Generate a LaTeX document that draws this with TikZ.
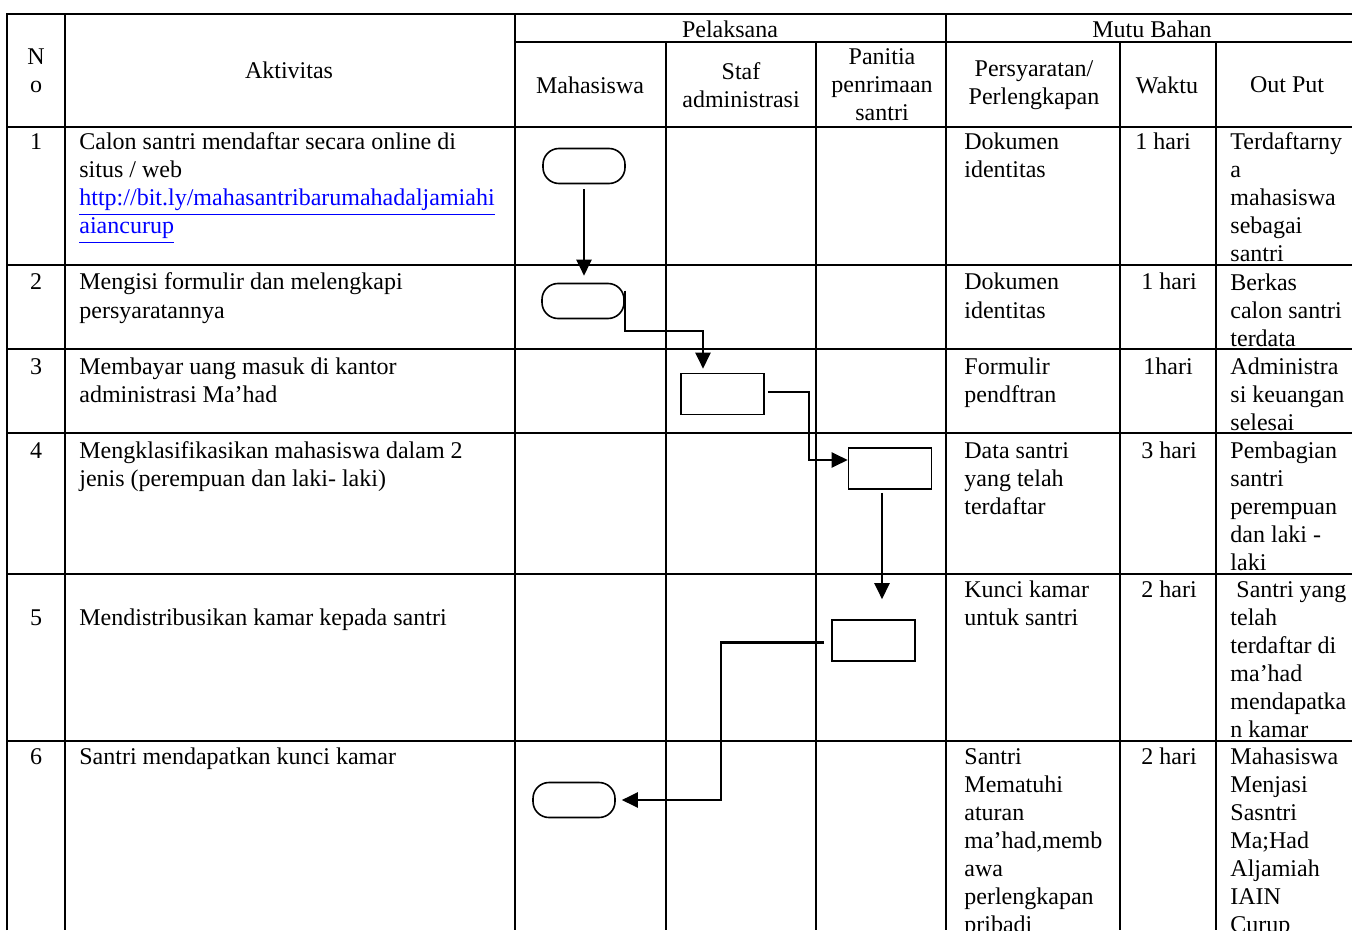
\documentclass[tikz,border=0pt]{standalone}
\usepackage{fontspec}
\setmainfont{Liberation Serif}
\usetikzlibrary{arrows.meta}
\newcommand\weblink[1]{\textcolor{blue}{\underline{#1}}}

\begin{document}
\begin{tikzpicture}[x=0.5pt,y=-0.5pt,
  font=\fontsize{12}{14}\selectfont,
  tbl/.style={line width=1pt},
  term/.style={draw, line width=0.8pt, rounded corners=8pt, minimum width=41pt, minimum height=17.5pt, inner sep=0pt},
  proc/.style={draw, line width=0.8pt, minimum width=41.5pt, minimum height=20.5pt, inner sep=0pt},
  flow/.style={line width=1.1pt, -{Triangle[length=8pt,width=7.5pt]}},
  cell/.style={anchor=north west, inner sep=0pt, align=left},
  mid/.style={anchor=north, inner sep=0pt, align=center},
  head/.style={inner sep=0pt, align=center}]
  \useasboundingbox (0,0) rectangle (1352,930);
  \clip (0,0) rectangle (1352,930);

  % table
  \draw[tbl] (7,930) -- (7,14) -- (1360,14);
  \draw[tbl] (515,42) -- (1360,42);
  \foreach \y in {127,265,349,433,574,741}
    \draw[tbl] (7,\y) -- (1360,\y);
  \foreach \x in {65,515,946}
    \draw[tbl] (\x,14) -- (\x,930);
  \foreach \x in {666,816,1120,1216}
    \draw[tbl] (\x,42) -- (\x,930);

  % header
  \node[head] (hno) at (36,71) {N\\o};
  \node[head] (hakt) at (289,70) {Aktivitas};
  \node[head] (hpel) at (730,29) {Pelaksana};
  \node[head] (hmutu) at (1152,29) {Mutu Bahan};
  \node[head] (hmhs) at (590,85) {Mahasiswa};
  \node[head] (hstaf) at (741,85) {Staf\\administrasi};
  \node[head] (hpan) at (882,85) {Panitia\\penrimaan\\santri};
  \node[head] (hsyarat) at (1034,85) {Persyaratan/\\Perlengkapan};
  \node[head] (hwaktu) at (1167,85) {Waktu};
  \node[head] (hout) at (1287,85) {Out Put};

  % nomor
  \node[mid] (no1) at (36,130) {\strut 1};
  \node[mid] (no2) at (36,270) {\strut 2};
  \node[mid] (no3) at (36,354) {\strut 3};
  \node[mid] (no4) at (36,438) {\strut 4};
  \node[mid] (no5) at (36,605) {\strut 5};
  \node[mid] (no6) at (36,744) {\strut 6};

  % aktivitas
  \node[cell] (akt1) at (79,130) {\strut Calon santri mendaftar secara online di\\situs / web\\\weblink{http://bit.ly/mahasantribarumahadaljamiahi}\\\weblink{aiancurup}};
  \node[cell] (akt2) at (79,270) {\strut Mengisi formulir dan melengkapi\\persyaratannya};
  \node[cell] (akt3) at (79,354) {\strut Membayar uang masuk di kantor\\administrasi Ma’had};
  \node[cell] (akt4) at (79,438) {\strut Mengklasifikasikan mahasiswa dalam 2\\jenis (perempuan dan laki- laki)};
  \node[cell] (akt5) at (79,605) {\strut Mendistribusikan kamar kepada santri};
  \node[cell] (akt6) at (79,744) {\strut Santri mendapatkan kunci kamar};

  % persyaratan
  \node[cell] (req1) at (964,130) {\strut Dokumen\\identitas};
  \node[cell] (req2) at (964,270) {\strut Dokumen\\identitas};
  \node[cell] (req3) at (964,354) {\strut Formulir\\pendftran};
  \node[cell] (req4) at (964,438) {\strut Data santri\\yang telah\\terdaftar};
  \node[cell] (req5) at (964,577) {\strut Kunci kamar\\untuk santri};
  \node[cell] (req6) at (964,744) {\strut Santri\\Mematuhi\\aturan\\ma’had,memb\\awa\\perlengkapan\\pribadi};

  % waktu
  \node[mid] (time1) at (1163,130) {\strut 1 hari};
  \node[mid] (time2) at (1169,270) {\strut 1 hari};
  \node[mid] (time3) at (1168,354) {\strut 1hari};
  \node[mid] (time4) at (1169,438) {\strut 3 hari};
  \node[mid] (time5) at (1169,577) {\strut 2 hari};
  \node[mid] (time6) at (1169,744) {\strut 2 hari};

  % out put
  \node[cell] (out1) at (1230,130) {\strut Terdaftarny\\a\\mahasiswa\\sebagai\\santri};
  \node[cell] (out2) at (1230,270) {\strut Berkas\\calon santri\\terdata};
  \node[cell] (out3) at (1230,354) {\strut Administra\\si keuangan\\selesai};
  \node[cell] (out4) at (1230,438) {\strut Pembagian\\santri\\perempuan\\dan laki -\\laki};
  \node[cell] (out5) at (1230,577) {\strut\hspace{3pt}Santri yang\\telah\\terdaftar di\\ma’had\\mendapatka\\n kamar};
  \node[cell] (out6) at (1230,744) {\strut Mahasiswa\\Menjasi\\Sasntri\\Ma;Had\\Aljamiah\\IAIN\\Curup};

  % alur
  \node[term] (mhs1) at (584,166) {};
  \node[term] (mhs2) at (583,301) {};
  \node[proc] (adm3) at (722.5,394) {};
  \node[proc] (pan4) at (890,468.5) {};
  \node[proc] (pan5) at (873.5,640.5) {};
  \node[term] (mhs6) at (574,800) {};

  \draw[flow, shorten <=2.5pt, shorten >=3.5pt] (mhs1.south) -- (mhs1.south |- mhs2.north);
  \draw[flow, shorten >=2pt] ([yshift=-4pt]mhs2.north east) -- ++(0,40) -| ([xshift=-9.75pt]adm3.north);
  \draw[flow] ([xshift=1.5pt,yshift=1pt]adm3.east) -- ++(41,0) |- ([yshift=4.25pt]pan4.west);
  \draw[flow, shorten <=1.5pt, shorten >=10pt] ([xshift=-4pt]pan4.south) -- ([xshift=-4pt]pan4.south |- pan5.north);
  \draw[flow, shorten <=3.5pt, shorten >=3pt] ([yshift=-1pt]pan5.west) -- ++(-110,0) |- (mhs6.east);
\end{tikzpicture}
\end{document}
